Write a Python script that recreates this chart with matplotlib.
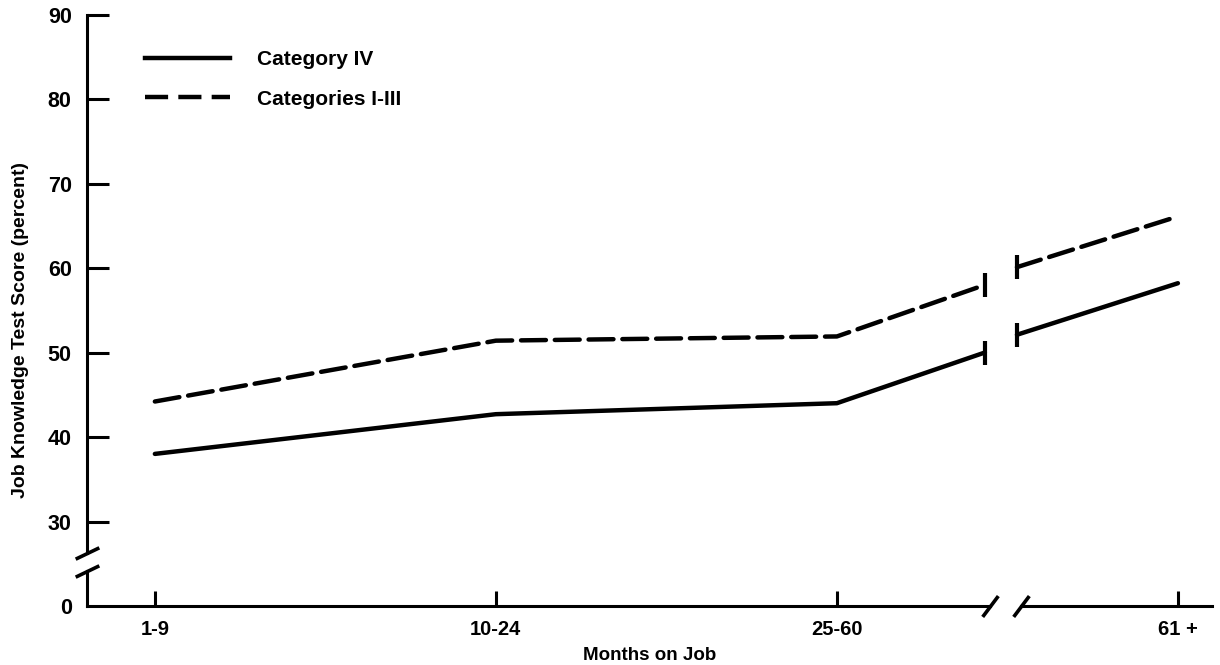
import matplotlib
matplotlib.use("Agg")
import matplotlib.pyplot as plt
import numpy as np

# ---- data ----
categories = ["1-9", "10-24", "25-60", "61 +"]
cat_iv = [38.0, 42.7, 44.0, 58.2]            # Category IV at each group
cat_i_iii = [44.2, 51.4, 51.9, 66.1]         # Categories I-III at each group
cat_iv_break = [50.0, 52.1]                  # line values either side of the break
cat_i_iii_break = [58.0, 60.1]
y_ticks = [30, 40, 50, 60, 70, 80, 90]
legend_labels = ["Category IV", "Categories I-III"]

FONT = ["Liberation Sans", "DejaVu Sans"]
plt.rcParams["font.family"] = FONT
plt.rcParams["font.weight"] = "bold"

fig = plt.figure(figsize=(12.2, 6.65), dpi=100)
ax = fig.add_axes([87 / 1220, (665 - 606) / 665, 1125 / 1220, 591.5 / 665])

x = np.arange(len(categories))
brk_lo, brk_hi = 2.434, 2.528       # x positions of the line break
xlim = (-0.199, 3.10)
y_bottom = 20                       # where "0" sits on the broken scale
ax.set_xlim(*xlim)
ax.set_ylim(y_bottom, 90)

LW = 3.2
DASH = (0, (5.6, 2.0))

# Category IV (solid)
ax.plot(list(x[:3]) + [brk_lo], cat_iv[:3] + [cat_iv_break[0]], color="black",
        lw=LW, solid_capstyle="round", solid_joinstyle="round")
ax.plot([brk_hi, x[3]], [cat_iv_break[1], cat_iv[3]], color="black",
        lw=LW, solid_capstyle="round")
# Categories I-III (dashed)
ax.plot(list(x[:3]) + [brk_lo], cat_i_iii[:3] + [cat_i_iii_break[0]], color="black",
        lw=LW, linestyle=DASH, dash_capstyle="round")
ax.plot([brk_hi, x[3]], [cat_i_iii_break[1], cat_i_iii[3]], color="black",
        lw=LW, linestyle=DASH, dash_capstyle="round")
# break bars on the lines
ax.plot([brk_lo, brk_lo, brk_hi, brk_hi],
        [cat_iv_break[0], cat_i_iii_break[0], cat_iv_break[1], cat_i_iii_break[1]],
        linestyle="none", marker="|", markersize=17, markeredgewidth=3, color="black")

# ---- custom axes lines with breaks ----
for s in ax.spines.values():
    s.set_visible(False)
AXLW = 2.2
ybrk_hi, ybrk_lo = 26.3, 24.1
ax.plot([xlim[0], xlim[0]], [90, ybrk_hi], color="black", lw=AXLW, clip_on=False)
ax.plot([xlim[0], xlim[0]], [ybrk_lo, y_bottom], color="black", lw=AXLW, clip_on=False)
xbrk_lo, xbrk_hi = 2.449, 2.540
ax.plot([xlim[0], xbrk_lo], [y_bottom, y_bottom], color="black", lw=AXLW, clip_on=False)
ax.plot([xbrk_hi, xlim[1]], [y_bottom, y_bottom], color="black", lw=AXLW, clip_on=False)

slash_y = [(-1, -0.48), (1, 0.48)]
ax.plot([xlim[0], xlim[0]], [ybrk_hi, ybrk_lo], linestyle="none", marker=slash_y,
        markersize=17, markeredgewidth=2.6, color="black", clip_on=False)
slash_x = [(-0.75, -1), (0.75, 1)]
ax.plot([xbrk_lo, xbrk_hi], [y_bottom, y_bottom], linestyle="none", marker=slash_x,
        markersize=15, markeredgewidth=2.6, color="black", clip_on=False)

# ---- ticks ----
ax.set_yticks([y_bottom] + y_ticks)
ax.set_yticklabels(["0"] + [str(v) for v in y_ticks])
ax.tick_params(axis="y", direction="in", length=16, width=2.2, pad=11, labelsize=15.5)
ax.yaxis.get_major_ticks()[0].tick1line.set_visible(False)
ax.set_xticks(x)
ax.set_xticklabels(categories)
ax.tick_params(axis="x", direction="in", length=11, width=2.2, pad=10, labelsize=14.5)
for lbl in ax.get_xticklabels() + ax.get_yticklabels():
    lbl.set_fontweight("bold")

ax.set_xlabel("Months on Job", fontsize=13.5, fontweight="bold", labelpad=6)
ax.set_ylabel("Job Knowledge Test Score (percent)", fontsize=14, fontweight="bold",
              va="center")
ax.yaxis.set_label_coords(-0.0587, 0.467)

# ---- legend ----
from matplotlib.lines import Line2D
handles = [Line2D([], [], color="black", lw=LW),
           Line2D([], [], color="black", lw=LW, linestyle=(0, (5.2, 2.3)))]
leg = ax.legend(handles, legend_labels, loc="upper left", bbox_to_anchor=(0.0516, 0.94),
                frameon=False, borderpad=0, borderaxespad=0, handlelength=4.1,
                handletextpad=1.25, labelspacing=0.99,
                prop={"family": FONT, "weight": "bold", "size": 15})

fig.savefig("out.png", dpi=100)
